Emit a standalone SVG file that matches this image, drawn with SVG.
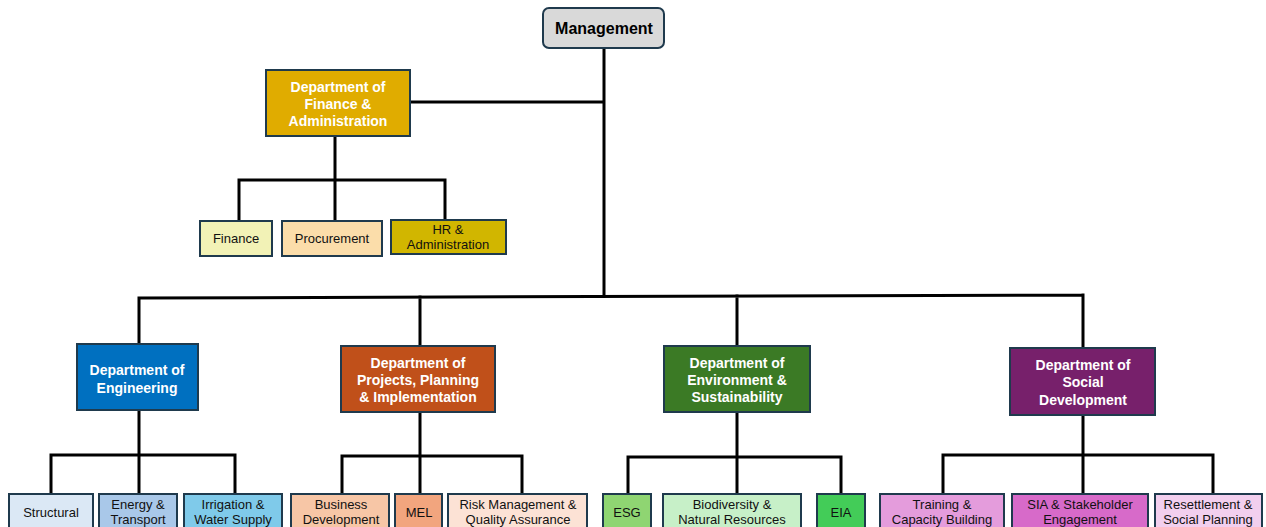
<svg xmlns="http://www.w3.org/2000/svg" width="1266" height="527" viewBox="0 0 1266 527">
<style>
.box{stroke:#1F3A4D;stroke-width:2}
.conn{stroke:#000;stroke-width:3;fill:none;stroke-linecap:square}
.dt{font-family:"Liberation Sans",Arial,sans-serif;font-weight:bold;font-size:14px;fill:#fff;text-anchor:middle}
.ct{font-family:"Liberation Sans",Arial,sans-serif;font-size:13px;fill:#111;text-anchor:middle}
.mt{font-family:"Liberation Sans",Arial,sans-serif;font-weight:bold;font-size:16px;fill:#000;text-anchor:middle}
</style>
<rect width="1266" height="527" fill="#fff"/>
<g id="connectors">
<path class="conn" d="M604 48V296M410 102H604"/>
<path class="conn" d="M139 298L1083 295M139 298V344M420 297V346M737 296V346M1083 295V348"/>
<path class="conn" d="M335 136V180M239 180H445M239 180V221M335 180V221M445 180V220"/>
<path class="conn" d="M139 410V455M51 455H235M51 455V494M139 455V494M235 455V494"/>
<path class="conn" d="M420 412V456M342 456H522M342 456V494M420 456V494M522 456V494"/>
<path class="conn" d="M737 412V457M628 457H841M628 457V494M737 457V494M841 457V494"/>
<path class="conn" d="M1083 415V455M943 455H1213M943 455V494M1083 455V494M1213 455V494"/>
</g>
<g id="management">
<rect class="box" x="543" y="8" width="121" height="40" rx="6" fill="#D9D9D9"/>
<text class="mt" x="604" y="34">Management</text>
</g>
<g id="dept-finance">
<rect class="box" x="266" y="70" width="144" height="66" fill="#E0AC00"/>
<text class="dt" x="338" y="92">Department of</text>
<text class="dt" x="338" y="109">Finance &amp;</text>
<text class="dt" x="338" y="126">Administration</text>
</g>
<g id="finance">
<rect class="box" x="200" y="221" width="72" height="35" fill="#F2F2B6"/>
<text class="ct" x="236" y="243">Finance</text>
</g>
<g id="procurement">
<rect class="box" x="282" y="221" width="100" height="35" fill="#FBDDAA"/>
<text class="ct" x="332" y="243">Procurement</text>
</g>
<g id="hr">
<rect class="box" x="391" y="220" width="115" height="34" fill="#D1B600"/>
<text class="ct" x="448" y="234">HR &amp;</text>
<text class="ct" x="448" y="249">Administration</text>
</g>
<g id="dept-engineering">
<rect class="box" x="77" y="344" width="121" height="66" fill="#0070C0"/>
<text class="dt" x="137" y="375">Department of</text>
<text class="dt" x="137" y="393">Engineering</text>
</g>
<g id="dept-projects">
<rect class="box" x="341" y="346" width="154" height="66" fill="#C0501A"/>
<text class="dt" x="418" y="368">Department of</text>
<text class="dt" x="418" y="385">Projects, Planning</text>
<text class="dt" x="418" y="402">&amp; Implementation</text>
</g>
<g id="dept-environment">
<rect class="box" x="664" y="346" width="146" height="66" fill="#3B7A25"/>
<text class="dt" x="737" y="368">Department of</text>
<text class="dt" x="737" y="385">Environment &amp;</text>
<text class="dt" x="737" y="402">Sustainability</text>
</g>
<g id="dept-social">
<rect class="box" x="1010" y="348" width="145" height="67" fill="#77206B"/>
<text class="dt" x="1083" y="370">Department of</text>
<text class="dt" x="1083" y="387">Social</text>
<text class="dt" x="1083" y="405">Development</text>
</g>
<g id="structural">
<rect class="box" x="9" y="494" width="84" height="40" fill="#DBE8F5"/>
<text class="ct" x="51" y="517">Structural</text>
</g>
<g id="energy">
<rect class="box" x="99" y="494" width="78" height="40" fill="#A9C8E9"/>
<text class="ct" x="138" y="509">Energy &amp;</text>
<text class="ct" x="138" y="524">Transport</text>
</g>
<g id="irrigation">
<rect class="box" x="184" y="494" width="98" height="40" fill="#7FCAEA"/>
<text class="ct" x="233" y="509">Irrigation &amp;</text>
<text class="ct" x="233" y="524">Water Supply</text>
</g>
<g id="business">
<rect class="box" x="291" y="494" width="98" height="40" fill="#F7C6A6"/>
<text class="ct" x="341" y="509">Business</text>
<text class="ct" x="341" y="524">Development</text>
</g>
<g id="mel">
<rect class="box" x="395" y="494" width="47" height="40" fill="#F2A57E"/>
<text class="ct" x="419" y="517">MEL</text>
</g>
<g id="risk">
<rect class="box" x="448" y="494" width="139" height="40" fill="#FCE2D5"/>
<text class="ct" x="518" y="509">Risk Management &amp;</text>
<text class="ct" x="518" y="524">Quality Assurance</text>
</g>
<g id="esg">
<rect class="box" x="603" y="494" width="48" height="40" fill="#8FD572"/>
<text class="ct" x="627" y="517">ESG</text>
</g>
<g id="biodiversity">
<rect class="box" x="663" y="494" width="138" height="40" fill="#C7F0C8"/>
<text class="ct" x="732" y="509">Biodiversity &amp;</text>
<text class="ct" x="732" y="524">Natural Resources</text>
</g>
<g id="eia">
<rect class="box" x="817" y="494" width="48" height="40" fill="#43CC58"/>
<text class="ct" x="841" y="517">EIA</text>
</g>
<g id="training">
<rect class="box" x="880" y="494" width="124" height="40" fill="#E49CDC"/>
<text class="ct" x="942" y="509">Training &amp;</text>
<text class="ct" x="942" y="524">Capacity Building</text>
</g>
<g id="sia">
<rect class="box" x="1012" y="494" width="136" height="40" fill="#D76AC9"/>
<text class="ct" x="1080" y="509">SIA &amp; Stakeholder</text>
<text class="ct" x="1080" y="524">Engagement</text>
</g>
<g id="resettlement">
<rect class="box" x="1155" y="494" width="107" height="40" fill="#F2CFEE"/>
<text class="ct" x="1208" y="509">Resettlement &amp;</text>
<text class="ct" x="1208" y="524">Social Planning</text>
</g>
</svg>
